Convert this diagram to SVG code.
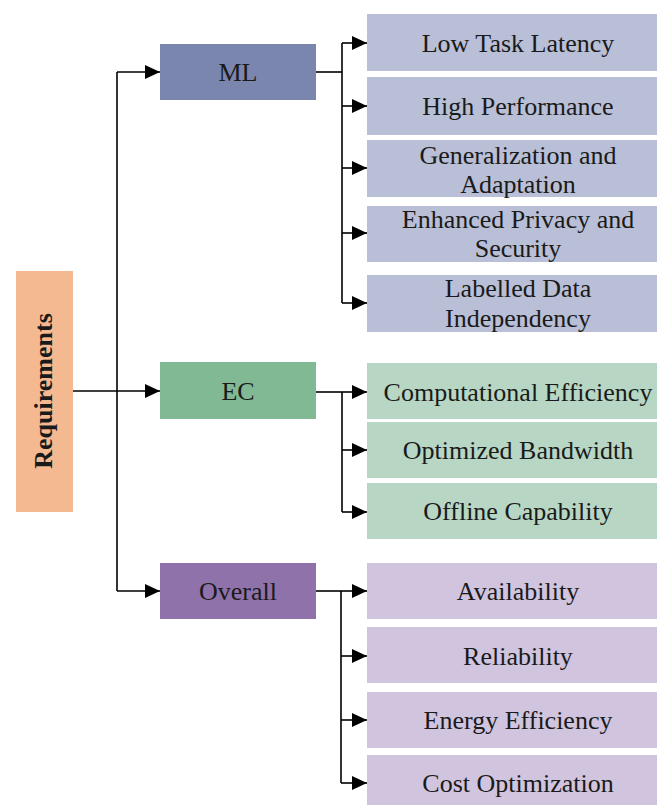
<svg xmlns="http://www.w3.org/2000/svg" width="657" height="805" viewBox="0 0 657 805">
<style>
  text { font-family: "Liberation Serif", "Times New Roman", serif; font-size: 26px; fill: #1a1a1a; text-anchor: middle; }
  .conn { fill: none; stroke: #000; stroke-width: 1.6; }
  .ml { fill: #7a86ad; }
  .mlc { fill: #b9bfd6; }
  .ec { fill: #80b994; }
  .ecc { fill: #b7d6c4; }
  .ov { fill: #8f72aa; }
  .ovc { fill: #d1c4de; }
  .req { fill: #f5b992; }
</style>
<defs>
  <marker id="ah" markerWidth="15" markerHeight="14" refX="15" refY="7" orient="auto" markerUnits="userSpaceOnUse">
    <path d="M0,0 L15,7 L0,14 z" fill="#000"/>
  </marker>
</defs>
<rect width="657" height="805" fill="#fff"/>

<g id="connectors">
  <path class="conn" d="M73,391 H117"/>
  <path class="conn" d="M117,72 V591"/>
  <path class="conn" d="M117,72 H160" marker-end="url(#ah)"/>
  <path class="conn" d="M117,391 H160" marker-end="url(#ah)"/>
  <path class="conn" d="M117,591 H160" marker-end="url(#ah)"/>
  <!-- ML -->
  <path class="conn" d="M316,72 H342"/>
  <path class="conn" d="M342,43 V303"/>
  <path class="conn" d="M342,43 H367" marker-end="url(#ah)"/>
  <path class="conn" d="M342,106 H367" marker-end="url(#ah)"/>
  <path class="conn" d="M342,168 H367" marker-end="url(#ah)"/>
  <path class="conn" d="M342,233 H367" marker-end="url(#ah)"/>
  <path class="conn" d="M342,303 H367" marker-end="url(#ah)"/>
  <!-- EC -->
  <path class="conn" d="M316,392 H342"/>
  <path class="conn" d="M342,392 V512"/>
  <path class="conn" d="M342,392 H367" marker-end="url(#ah)"/>
  <path class="conn" d="M342,450 H367" marker-end="url(#ah)"/>
  <path class="conn" d="M342,512 H367" marker-end="url(#ah)"/>
  <!-- Overall -->
  <path class="conn" d="M316,591 H341"/>
  <path class="conn" d="M341,591 V783"/>
  <path class="conn" d="M341,591 H367" marker-end="url(#ah)"/>
  <path class="conn" d="M341,656 H367" marker-end="url(#ah)"/>
  <path class="conn" d="M341,720 H367" marker-end="url(#ah)"/>
  <path class="conn" d="M341,783 H367" marker-end="url(#ah)"/>
</g>

<g id="requirements">
  <rect class="req" x="16" y="271" width="57" height="241"/>
  <text transform="translate(52,391) rotate(-90)" font-weight="bold">Requirements</text>
</g>

<g id="ml">
  <rect class="ml" x="160" y="44" width="156" height="56"/>
  <text x="238" y="81">ML</text>
</g>
<g id="ec">
  <rect class="ec" x="160" y="362" width="156" height="57"/>
  <text x="238" y="400">EC</text>
</g>
<g id="overall">
  <rect class="ov" x="160" y="563" width="156" height="56"/>
  <text x="238" y="600">Overall</text>
</g>

<g id="ml-low-task-latency">
  <rect class="mlc" x="367" y="14" width="303" height="57"/>
  <text x="518" y="52">Low Task Latency</text>
</g>
<g id="ml-high-performance">
  <rect class="mlc" x="367" y="77" width="303" height="58"/>
  <text x="518" y="115">High Performance</text>
</g>
<g id="ml-generalization">
  <rect class="mlc" x="367" y="140" width="303" height="57"/>
  <text x="518" y="164">Generalization and</text>
  <text x="518" y="193">Adaptation</text>
</g>
<g id="ml-privacy">
  <rect class="mlc" x="367" y="206" width="303" height="56"/>
  <text x="518" y="228">Enhanced Privacy and</text>
  <text x="518" y="257">Security</text>
</g>
<g id="ml-labelled-data">
  <rect class="mlc" x="367" y="275" width="303" height="57"/>
  <text x="518" y="297">Labelled Data</text>
  <text x="518" y="327">Independency</text>
</g>

<g id="ec-computational">
  <rect class="ecc" x="367" y="363" width="303" height="56"/>
  <text x="518" y="401">Computational Efficiency</text>
</g>
<g id="ec-bandwidth">
  <rect class="ecc" x="367" y="422" width="303" height="56"/>
  <text x="518" y="459">Optimized Bandwidth</text>
</g>
<g id="ec-offline">
  <rect class="ecc" x="367" y="483" width="303" height="56"/>
  <text x="518" y="520">Offline Capability</text>
</g>

<g id="ov-availability">
  <rect class="ovc" x="367" y="563" width="303" height="56"/>
  <text x="518" y="600">Availability</text>
</g>
<g id="ov-reliability">
  <rect class="ovc" x="367" y="627" width="303" height="56"/>
  <text x="518" y="665">Reliability</text>
</g>
<g id="ov-energy">
  <rect class="ovc" x="367" y="692" width="303" height="56"/>
  <text x="518" y="729">Energy Efficiency</text>
</g>
<g id="ov-cost">
  <rect class="ovc" x="367" y="755" width="303" height="56"/>
  <text x="518" y="792">Cost Optimization</text>
</g>
</svg>
